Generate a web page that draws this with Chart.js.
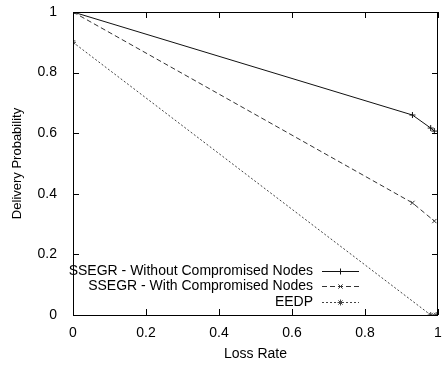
<!DOCTYPE html>
<html>
<head>
<meta charset="utf-8">
<script src="https://cdn.jsdelivr.net/npm/chart.js@4"></script>
<style>
  html, body { margin: 0; padding: 0; background: #fff; }
  #wrap { width: 443px; height: 365px; }
</style>
</head>
<body>
<div id="wrap"><canvas id="chart" width="443" height="365"></canvas></div>
<script>
// values
const seriesNames = [
    'SSEGR - Without Compromised Nodes',
    'SSEGR - With Compromised Nodes',
    'EEDP'
];
const lossWithout = [0, 0.93, 0.98, 0.99];
const probWithout = [1, 0.66, 0.617, 0.607];
const lossWith = [0, 0.93, 0.99];
const probWith = [1, 0.37, 0.31];
const lossEedp = [0, 0.98, 0.995];
const probEedp = [0.9, 0, 0];
const tickValues = [0, 0.2, 0.4, 0.6, 0.8, 1];

const toPoints = (xs, ys) => xs.map((x, i) => ({ x: x, y: ys[i] }));
const fmt = v => String(+Number(v).toFixed(1));
const FONT = 'Liberation Sans, Arial, sans-serif';

// gnuplot style frame with inward ticks and a legend inside the plot
const framePlugin = {
    id: 'frame',
    afterDraw(chart) {
        const ctx = chart.ctx;
        const a = chart.chartArea;
        const xs = chart.scales.x, ys = chart.scales.y;
        ctx.save();
        ctx.strokeStyle = '#000';
        ctx.lineWidth = 1;
        ctx.strokeRect(Math.round(a.left) + 0.5, Math.round(a.top) + 0.5,
            Math.round(a.right - a.left) - 1, Math.round(a.bottom - a.top));
        ctx.beginPath();
        tickValues.forEach(v => {
            const px = Math.round(xs.getPixelForValue(v)) + 0.5;
            ctx.moveTo(px, a.bottom); ctx.lineTo(px, a.bottom - 6);
            ctx.moveTo(px, a.top); ctx.lineTo(px, a.top + 6);
            const py = Math.round(ys.getPixelForValue(v)) + 0.5;
            ctx.moveTo(a.left, py); ctx.lineTo(a.left + 6, py);
            ctx.moveTo(a.right, py); ctx.lineTo(a.right - 6, py);
        });
        ctx.stroke();

        // legend
        ctx.font = '14px ' + FONT;
        ctx.textAlign = 'right';
        ctx.textBaseline = 'middle';
        const textRight = 313, lineL = 322, lineR = 359;
        const rows = [271, 286, 302];
        chart.data.datasets.forEach((ds, i) => {
            const y = rows[i];
            ctx.fillStyle = '#000';
            ctx.fillText(ds.label, textRight, y);
            ctx.strokeStyle = ds.borderColor;
            ctx.setLineDash(ds.borderDash || []);
            ctx.beginPath();
            ctx.moveTo(lineL, y + 0.5); ctx.lineTo(lineR, y + 0.5);
            ctx.stroke();
            ctx.setLineDash([]);
            Chart.helpers.drawPoint(ctx, {
                pointStyle: ds.pointStyle, radius: 3, borderWidth: 1
            }, (lineL + lineR) / 2, y + 0.5);
        });
        ctx.restore();
    }
};

new Chart(document.getElementById('chart').getContext('2d'), {
    type: 'scatter',
    data: {
        datasets: [{
            label: seriesNames[0],
            data: toPoints(lossWithout, probWithout),
            showLine: true,
            borderColor: '#111',
            backgroundColor: '#111',
            borderWidth: 1,
            pointStyle: 'cross',
            pointRadius: 3,
            pointBorderWidth: 1
        }, {
            label: seriesNames[1],
            data: toPoints(lossWith, probWith),
            showLine: true,
            borderColor: '#333',
            backgroundColor: '#333',
            borderWidth: 1,
            borderDash: [5, 3],
            pointStyle: 'crossRot',
            pointRadius: 3,
            pointBorderWidth: 1
        }, {
            label: seriesNames[2],
            data: toPoints(lossEedp, probEedp),
            showLine: true,
            borderColor: '#444',
            backgroundColor: '#444',
            borderWidth: 1,
            borderDash: [2, 2],
            pointStyle: 'star',
            pointRadius: 3,
            pointBorderWidth: 1
        }]
    },
    options: {
        responsive: false,
        animation: false,
        layout: { padding: { top: 12, right: 2, left: 0, bottom: 0 } },
        plugins: {
            legend: { display: false },
            tooltip: { enabled: false }
        },
        scales: {
            x: {
                type: 'linear',
                min: 0,
                max: 1,
                afterFit: s => { s.height = 50; s.paddingRight = 0; s.paddingLeft = 0; },
                afterBuildTicks: s => { s.ticks = tickValues.map(v => ({ value: v })); },
                grid: { display: false },
                border: { display: false },
                ticks: { color: '#000', padding: 2, font: { family: FONT, size: 14 }, callback: fmt },
                title: {
                    display: true, text: 'Loss Rate', color: '#000',
                    font: { family: FONT, size: 14 }, padding: { top: 2, bottom: 2 }
                }
            },
            y: {
                type: 'linear',
                min: 0,
                max: 1,
                afterFit: s => { s.width = 73; s.paddingTop = 0; s.paddingBottom = 0; },
                afterBuildTicks: s => { s.ticks = tickValues.map(v => ({ value: v })); },
                grid: { display: false },
                border: { display: false },
                ticks: { color: '#000', padding: 8, font: { family: FONT, size: 14 }, callback: fmt },
                title: {
                    display: true, text: 'Delivery Probability', color: '#000',
                    font: { family: FONT, size: 13 }, padding: { top: 10, bottom: 6 }
                }
            }
        }
    },
    plugins: [framePlugin]
});
</script>
</body>
</html>
